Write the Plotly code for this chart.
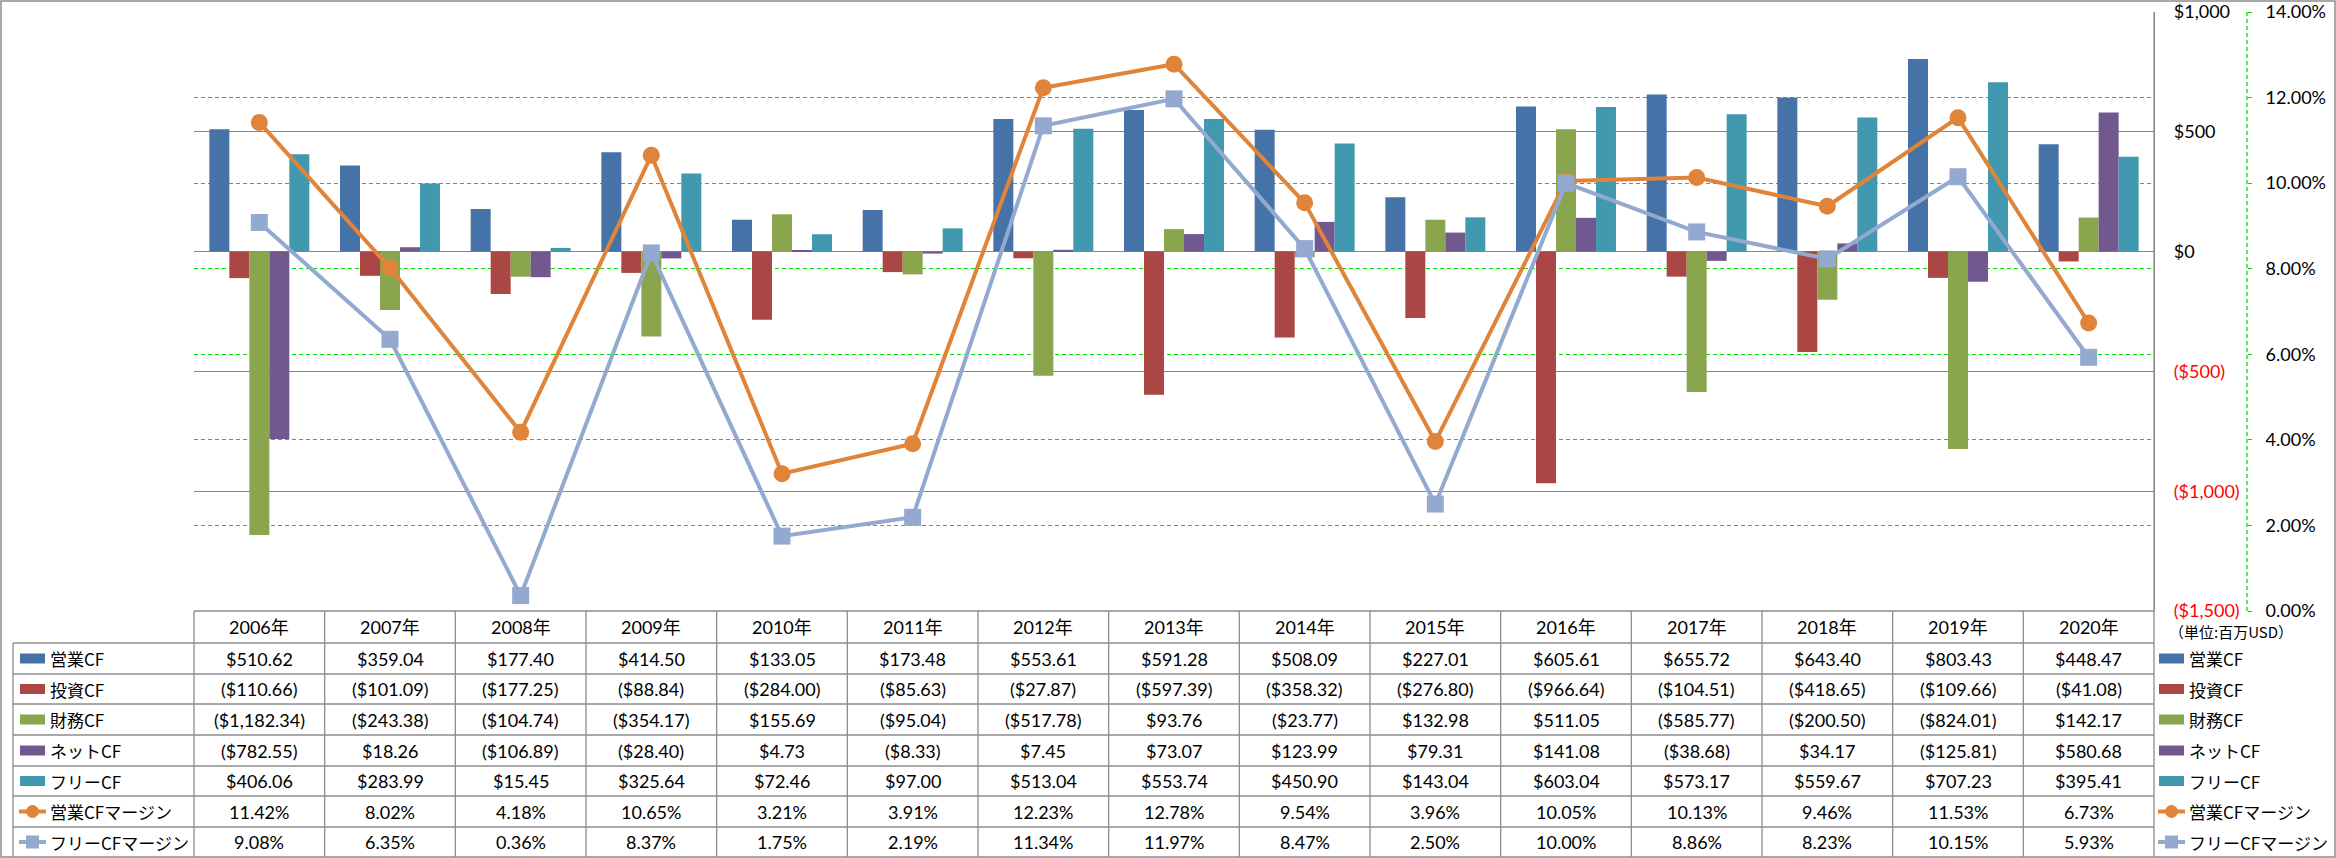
import plotly.graph_objects as go

W, H = 2336, 858

# ---------------- data ----------------
years = ["2006年", "2007年", "2008年", "2009年", "2010年", "2011年", "2012年", "2013年",
         "2014年", "2015年", "2016年", "2017年", "2018年", "2019年", "2020年"]

op_cf = [510.62, 359.04, 177.40, 414.50, 133.05, 173.48, 553.61, 591.28, 508.09, 227.01,
         605.61, 655.72, 643.40, 803.43, 448.47]
inv_cf = [-110.66, -101.09, -177.25, -88.84, -284.00, -85.63, -27.87, -597.39, -358.32, -276.80,
          -966.64, -104.51, -418.65, -109.66, -41.08]
fin_cf = [-1182.34, -243.38, -104.74, -354.17, 155.69, -95.04, -517.78, 93.76, -23.77, 132.98,
          511.05, -585.77, -200.50, -824.01, 142.17]
net_cf = [-782.55, 18.26, -106.89, -28.40, 4.73, -8.33, 7.45, 73.07, 123.99, 79.31,
          141.08, -38.68, 34.17, -125.81, 580.68]
free_cf = [406.06, 283.99, 15.45, 325.64, 72.46, 97.00, 513.04, 553.74, 450.90, 143.04,
           603.04, 573.17, 559.67, 707.23, 395.41]
op_margin = [11.42, 8.02, 4.18, 10.65, 3.21, 3.91, 12.23, 12.78, 9.54, 3.96,
             10.05, 10.13, 9.46, 11.53, 6.73]
free_margin = [9.08, 6.35, 0.36, 8.37, 1.75, 2.19, 11.34, 11.97, 8.47, 2.50,
               10.00, 8.86, 8.23, 10.15, 5.93]

bar_names = ["営業CF", "投資CF", "財務CF", "ネットCF", "フリーCF"]
bar_values = [op_cf, inv_cf, fin_cf, net_cf, free_cf]
line_names = ["営業CFマージン", "フリーCFマージン"]
line_values = [op_margin, free_margin]

usd_ticks = [1000, 500, 0, -500, -1000, -1500]
pct_ticks = [0, 2, 4, 6, 8, 10, 12, 14]
unit_label = "（単位:百万USD）"

# ---------------- styles ----------------
bar_colors = ["#4572A7", "#AA4643", "#89A54E", "#71588F", "#4198AF"]
line_colors = ["#E0843A", "#93A9CF"]
line_symbols = ["circle", "square"]
GRID_GRAY = "#878787"
GREEN = "#00E000"
RED = "#FF0000"
NUM_FONT = "Lato, 'Noto Sans CJK JP', sans-serif"
JP_FONT = "'Noto Sans CJK JP', sans-serif"

PL, PR, PT, PB = 194, 2154, 12, 611          # plot area in px
AX2_X = 2247                                   # secondary axis position px
ROWS = [611, 643, 674, 704, 735, 766, 796, 827, 857]   # table row boundaries px
LEG_L = 13                                     # table legend column left px


def px(x):
    return x / W


def py(y):
    return (H - y) / H


def money(v, dec=2):
    s = f"${abs(v):,.{dec}f}"
    return f"({s})" if v < 0 else s


fig = go.Figure()

for name, vals, col in zip(bar_names, bar_values, bar_colors):
    fig.add_trace(go.Bar(x=years, y=vals, name=name, marker=dict(color=col, line=dict(width=0)),
                         yaxis="y", showlegend=False))

for name, vals, col, sym in zip(line_names, line_values, line_colors, line_symbols):
    fig.add_trace(go.Scatter(x=years, y=vals, name=name, mode="lines+markers", yaxis="y2",
                             line=dict(color=col, width=4),
                             marker=dict(symbol=sym, size=17, color=col),
                             cliponaxis=False, showlegend=False))

usd_text = [money(v, 0) if v >= 0 else f'<span style="color:{RED}">{money(v, 0)}</span>'
            for v in usd_ticks]

shapes = []
annotations = []

# outer chart border
shapes.append(dict(type="rect", xref="paper", yref="paper", x0=px(1), x1=px(W - 1), y0=py(H - 1), y1=py(1),
                   line=dict(color="#8C8C8C", width=1.5), layer="below"))

# secondary axis line (green dashed)
shapes.append(dict(type="line", xref="paper", yref="paper", x0=px(AX2_X), x1=px(AX2_X), y0=py(PB), y1=py(PT),
                   line=dict(color=GREEN, width=1.3, dash="4px,3px")))

# table lines
TL = dict(color="#8C8C8C", width=1.3)
for y in ROWS[1:-1]:
    shapes.append(dict(type="line", xref="paper", yref="paper", x0=px(LEG_L), x1=px(PR), y0=py(y), y1=py(y), line=TL))
shapes.append(dict(type="line", xref="paper", yref="paper", x0=px(PL), x1=px(PR), y0=py(ROWS[0]), y1=py(ROWS[0]), line=TL))
shapes.append(dict(type="line", xref="paper", yref="paper", x0=px(LEG_L), x1=px(LEG_L), y0=py(ROWS[1]), y1=py(ROWS[-1]), line=TL))
shapes.append(dict(type="line", xref="paper", yref="paper", x0=px(PL), x1=px(PL), y0=py(ROWS[0]), y1=py(ROWS[-1]), line=TL))
shapes.append(dict(type="line", xref="paper", yref="paper", x0=px(PR), x1=px(PR), y0=py(PT), y1=py(ROWS[-1]), line=TL))
for i in range(1, len(years)):
    shapes.append(dict(type="line", xref="x", yref="paper", x0=i - 0.5, x1=i - 0.5,
                       y0=py(ROWS[0]), y1=py(ROWS[-1]), line=TL))

centers = [(ROWS[k] + ROWS[k + 1]) / 2 for k in range(len(ROWS) - 1)]

# header
for i, yr in enumerate(years):
    annotations.append(dict(x=i, y=py(centers[0]), xref="x", yref="paper", text=yr, showarrow=False,
                            xanchor="center", yanchor="middle", font=dict(family=NUM_FONT, size=18, color="#000")))

row_texts = [[money(v) for v in vals] for vals in bar_values] + \
            [[f"{v:.2f}%" for v in vals] for vals in line_values]
row_names = bar_names + line_names
row_kinds = [("bar", c, None) for c in bar_colors] + [("line", c, s) for c, s in zip(line_colors, line_symbols)]

for r, (texts, name, kind) in enumerate(zip(row_texts, row_names, row_kinds)):
    yc = centers[r + 1]
    for i, t in enumerate(texts):
        annotations.append(dict(x=i, y=py(yc), xref="x", yref="paper", text=t, showarrow=False,
                                xanchor="center", yanchor="middle",
                                font=dict(family=NUM_FONT, size=18, color="#000")))
    # legend keys: left column and right side
    for (kx0, kx1, tx) in [(20, 45, 48), (2159, 2184, 2187)]:
        annotations.append(dict(x=px(tx), y=py(yc), xref="paper", yref="paper", text=name, showarrow=False,
                                xanchor="left", yanchor="middle",
                                font=dict(family=JP_FONT, size=17, color="#000")))
        typ, col, sym = kind
        if typ == "bar":
            shapes.append(dict(type="rect", xref="paper", yref="paper", x0=px(kx0), x1=px(kx1),
                               y0=py(yc + 5), y1=py(yc - 5), fillcolor=col, line=dict(width=0)))
        else:
            shapes.append(dict(type="line", xref="paper", yref="paper", x0=px(kx0 - 1), x1=px(kx1 + 1),
                               y0=py(yc), y1=py(yc), line=dict(color=col, width=4)))
            cx = (kx0 + kx1) / 2
            shapes.append(dict(type="circle" if sym == "circle" else "rect", xref="paper", yref="paper",
                               x0=px(cx - 6.5), x1=px(cx + 6.5), y0=py(yc + 6.5), y1=py(yc - 6.5),
                               fillcolor=col, line=dict(width=0)))

annotations.append(dict(x=px(2167), y=py(632), xref="paper", yref="paper", text=unit_label, showarrow=False,
                        xanchor="left", yanchor="middle", font=dict(family=JP_FONT, size=15, color="#000")))

fig.update_layout(
    width=W, height=H, autosize=False,
    margin=dict(l=0, r=0, t=0, b=0, pad=0),
    paper_bgcolor="white", plot_bgcolor="white",
    barmode="group", bargap=0.235, bargroupgap=0,
    showlegend=False,
    xaxis=dict(domain=[px(PL), px(PR)], type="category", range=[-0.5, len(years) - 0.5], automargin=False,
               showticklabels=False, showgrid=False, zeroline=False, showline=False, ticks=""),
    yaxis=dict(domain=[py(PB), py(PT)], range=[-1500, 1000], side="right", anchor="x", automargin=False,
               tickvals=usd_ticks, ticktext=usd_text, showgrid=True, gridcolor=GRID_GRAY, gridwidth=1.3,
               zeroline=False, showline=True, linecolor="#8C8C8C", linewidth=1.3, ticks="",
               ticklabelstandoff=15, tickfont=dict(family=NUM_FONT, size=18, color="#000")),
    yaxis2=dict(overlaying="y", side="right", anchor="free", position=px(AX2_X), range=[0, 14],
                automargin=False,
                tickvals=pct_ticks, ticktext=[f"{v:.2f}%" for v in pct_ticks],
                showgrid=True, gridcolor=GREEN, gridwidth=1.3, griddash="4px,3px",
                zeroline=False, showline=False, ticks="outside", ticklen=4, tickcolor=GREEN,
                ticklabelstandoff=10, tickfont=dict(family=NUM_FONT, size=18, color="#000")),
    shapes=shapes,
    annotations=annotations,
)

fig.write_html("out.html", config={"displayModeBar": False},
               post_script="document.body.style.margin='0';document.body.style.overflow='hidden';")
